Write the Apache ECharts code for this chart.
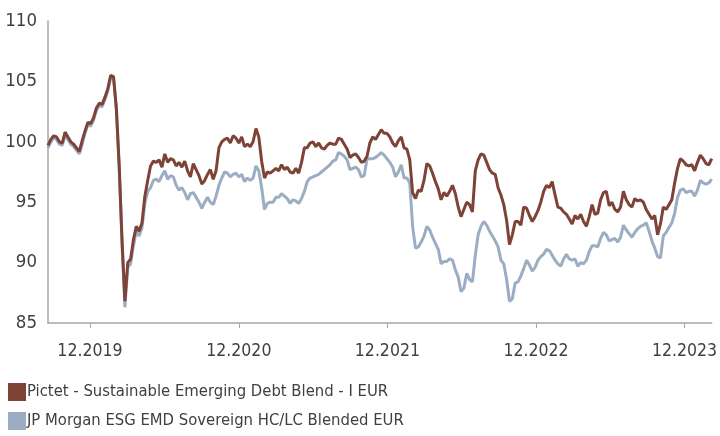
<!DOCTYPE html>
<html>
<head>
<meta charset="utf-8">
<script src="https://cdn.jsdelivr.net/npm/echarts@6/dist/echarts.min.js"></script>
<style>
html, body { margin: 0; padding: 0; background: #fff; }
#chart { width: 720px; height: 436px; }
</style>
</head>
<body>
<div id="chart"></div>
<script>
// weekly observations, first one on this date
var startDate = '2019-09-19'
var seriesNames = ['Pictet - Sustainable Emerging Debt Blend - I EUR', 'JP Morgan ESG EMD Sovereign HC/LC Blended EUR']
var tickDates = ['2019-12-31', '2020-12-31', '2021-12-31', '2022-12-31', '2023-12-31']
var tickLabels = ['12.2019', '12.2020', '12.2021', '12.2022', '12.2023']

var pictet = [
    99.7, 100.2, 100.5, 100.4, 100.0, 99.9, 100.8, 100.4, 100.0, 99.8,
    99.5, 99.2, 100.1, 100.9, 101.6, 101.5, 102.0, 102.8, 103.2, 103.1,
    103.7, 104.4, 105.5, 105.4, 102.7, 98.0, 91.8, 86.8, 90.0, 90.3,
    91.9, 93.0, 92.6, 93.3, 95.5, 96.8, 98.0, 98.4, 98.3, 98.5,
    97.9, 99.0, 98.3, 98.6, 98.5, 98.0, 98.3, 97.9, 98.4, 97.6,
    97.1, 98.2, 97.7, 97.2, 96.5, 96.8, 97.3, 97.7, 96.9, 97.6,
    99.5, 100.0, 100.2, 100.3, 99.9, 100.5, 100.3, 99.9, 100.4, 99.6,
    99.8, 99.6, 100.0, 101.1, 100.4, 98.4, 97.0, 97.5, 97.4, 97.6,
    97.8, 97.6, 98.1, 97.7, 97.9, 97.5, 97.4, 97.8, 97.4, 98.3,
    99.5, 99.5, 99.9, 100.0, 99.6, 99.9, 99.5, 99.4, 99.7, 99.9,
    99.8, 99.8, 100.3, 100.2, 99.8, 99.4, 98.7, 98.9, 99.0, 98.7,
    98.3, 98.4, 98.8, 99.9, 100.4, 100.2, 100.6, 101.0, 100.7, 100.7,
    100.4, 99.9, 99.6, 100.1, 100.4, 99.5, 99.4, 98.5, 95.8, 95.3,
    96.0, 95.9, 96.8, 98.2, 98.0, 97.4, 96.7, 96.1, 95.2, 95.8,
    95.5, 95.9, 96.4, 95.7, 94.6, 93.8, 94.4, 95.0, 94.8, 94.2,
    97.6, 98.5, 99.0, 98.9, 98.3, 97.7, 97.4, 97.3, 96.2, 95.6,
    94.8, 93.5, 91.5, 92.3, 93.4, 93.4, 93.1, 94.6, 94.5, 93.9,
    93.4, 93.8, 94.3, 95.0, 95.9, 96.4, 96.2, 96.7, 95.6, 94.6,
    94.5, 94.2, 94.0, 93.6, 93.2, 93.9, 93.6, 94.0, 93.4, 93.0,
    93.8, 94.8, 94.0, 94.1, 95.2, 95.8, 95.9, 94.7, 95.0, 94.4,
    94.2, 94.6, 95.9, 95.2, 94.8, 94.6, 95.3, 95.1, 95.2, 95.0,
    94.4, 94.0, 93.6, 93.9, 92.3, 93.2, 94.6, 94.4, 94.8, 95.2,
    96.6, 97.8, 98.6, 98.4, 98.1, 98.0, 98.1, 97.6, 98.3, 98.9,
    98.6, 98.2, 98.1, 98.6
]

var jpm = [
    99.5, 100.0, 100.3, 100.2, 99.8, 99.7, 100.5, 100.2, 99.8, 99.6,
    99.3, 99.0, 99.8, 100.7, 101.4, 101.3, 101.8, 102.6, 103.0, 102.9,
    103.5, 104.2, 105.3, 105.3, 102.8, 97.8, 91.5, 86.3, 89.6, 89.9,
    91.4, 92.6, 92.2, 92.9, 94.9, 95.9, 96.2, 96.8, 96.9, 96.7,
    97.2, 97.6, 96.9, 97.2, 97.1, 96.4, 96.0, 96.2, 95.8, 95.2,
    95.7, 95.8, 95.4, 95.0, 94.5, 95.0, 95.4, 95.0, 94.8, 95.5,
    96.4, 97.0, 97.5, 97.4, 97.1, 97.3, 97.4, 97.1, 97.3, 96.7,
    97.0, 96.8, 97.0, 98.0, 97.6, 96.2, 94.4, 94.9, 95.0, 95.0,
    95.4, 95.4, 95.7, 95.5, 95.3, 94.9, 95.2, 95.1, 94.9, 95.3,
    95.9, 96.7, 97.0, 97.1, 97.2, 97.3, 97.5, 97.7, 97.9, 98.1,
    98.4, 98.5, 99.1, 99.0, 98.8, 98.5, 97.7, 97.8, 97.9, 97.7,
    97.1, 97.2, 98.6, 98.6, 98.6, 98.7, 98.9, 99.1, 98.9, 98.6,
    98.3, 97.9, 97.1, 97.5, 98.1, 97.0, 97.0, 96.6, 93.0, 91.2,
    91.3, 91.7, 92.2, 93.0, 92.7, 92.1, 91.6, 91.1, 89.9, 90.1,
    90.1, 90.3, 90.2, 89.4, 88.8, 87.6, 87.9, 89.1, 88.6, 88.4,
    90.6, 92.3, 93.0, 93.4, 93.1, 92.6, 92.2, 91.8, 91.3, 90.2,
    89.9, 88.6, 86.8, 87.0, 88.3, 88.4, 88.9, 89.5, 90.2, 89.8,
    89.3, 89.6, 90.2, 90.5, 90.7, 91.1, 91.0, 90.6, 90.2, 89.9,
    89.7, 90.3, 90.7, 90.3, 90.2, 90.3, 89.7, 90.0, 89.9, 90.2,
    90.9, 91.4, 91.4, 91.3, 92.0, 92.5, 92.3, 91.8, 91.9, 92.0,
    91.7, 92.1, 93.1, 92.7, 92.4, 92.1, 92.5, 92.8, 93.0, 93.1,
    93.3, 92.6, 91.8, 91.2, 90.5, 90.4, 92.2, 92.5, 92.9, 93.3,
    94.1, 95.4, 96.0, 96.1, 95.8, 95.9, 95.9, 95.5, 96.0, 96.8,
    96.6, 96.5, 96.6, 96.9
]

var colors = ['#7e4236', '#9badc3']
var font = "'Liberation Sans Narrow', 'DejaVu Sans Condensed', 'Roboto Condensed', sans-serif"

var t0 = Date.parse(startDate + 'T00:00:00Z')
var week = 7 * 86400000

function toPairs(values) {
    return values.map(function (v, i) {
        return [t0 + i * week, v]
    })
}

var tickTimes = tickDates.map(function (d) { return Date.parse(d + 'T00:00:00Z') })
var lastTime = t0 + (pictet.length - 1) * week

var chart = echarts.init(document.getElementById('chart'))
chart.setOption({
    animation: false,
    color: colors,
    grid: { left: 48, right: 7, top: 21, bottom: 113 },
    legend: {
        data: seriesNames,
        orient: 'vertical',
        left: 8,
        top: 383,
        padding: 0,
        icon: 'rect',
        itemWidth: 18,
        itemHeight: 18,
        itemGap: 11,
        textStyle: { fontFamily: font, fontSize: 16.5, color: '#404040', padding: [0, 0, 0, -4] }
    },
    xAxis: {
        type: 'value',
        min: t0,
        max: lastTime,
        axisLine: { lineStyle: { color: '#a6a6a6', width: 1.5 } },
        axisTick: { show: true, length: 5, customValues: tickTimes, lineStyle: { color: '#a6a6a6' } },
        axisLabel: {
            customValues: tickTimes,
            fontFamily: font,
            fontSize: 17.5,
            color: '#404040',
            margin: 19,
            formatter: function (v) {
                var i = tickTimes.indexOf(v)
                return i >= 0 ? tickLabels[i] : ''
            }
        },
        splitLine: { show: false }
    },
    yAxis: {
        type: 'value',
        min: 85,
        max: 110,
        interval: 5,
        axisLine: { show: true, lineStyle: { color: '#a6a6a6', width: 1.5 } },
        axisTick: { show: false },
        axisLabel: { fontFamily: font, fontSize: 18.5, color: '#404040', margin: 11 },
        splitLine: { show: false }
    },
    series: [
        {
            name: seriesNames[1],
            type: 'line',
            data: toPairs(jpm),
            showSymbol: false,
            color: colors[1],
            lineStyle: { width: 3, color: colors[1] }
        },
        {
            name: seriesNames[0],
            type: 'line',
            data: toPairs(pictet),
            showSymbol: false,
            color: colors[0],
            lineStyle: { width: 3, color: colors[0] }
        }
    ]
})
</script>
</body>
</html>
